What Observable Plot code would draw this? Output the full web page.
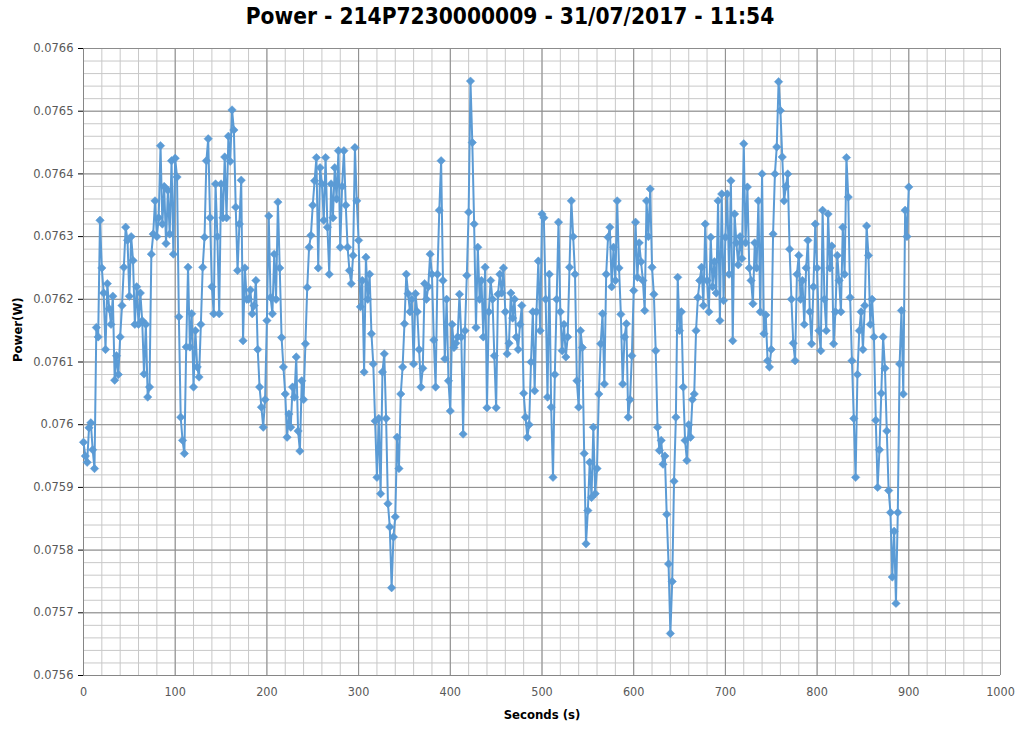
<!DOCTYPE html>
<html><head><meta charset="utf-8">
<script src="https://cdn.jsdelivr.net/npm/d3@7"></script>
<script src="https://cdn.jsdelivr.net/npm/@observablehq/plot@0.6"></script>
<style>
body{margin:0;background:#fff;}
#wrap{position:relative;width:1020px;height:733px;overflow:hidden;}
#title{position:absolute;left:0;top:3px;width:1020px;text-align:center;font-family:"Liberation Sans Narrow","DejaVu Sans Condensed",sans-serif;font-weight:bold;font-size:22.5px;color:#000;z-index:2;}
#chart svg{display:block;}
#chart [aria-label="y-axis tick label"]{font-family:"DejaVu Sans",Verdana,sans-serif;font-size:11.5px;fill:#595959;}
#chart [aria-label="x-axis tick label"]{font-family:"Liberation Sans Narrow","DejaVu Sans Condensed",sans-serif;font-size:12.5px;fill:#595959;}
</style></head>
<body><div id="wrap"><div id="title"></div><div id="chart"></div></div>
<script>
const chartTitle = "Power - 214P7230000009 - 31/07/2017 - 11:54";
const xLabel = "Seconds (s)";
const yLabel = "Power(W)";
const sampleStepSeconds = 2;
// power readings in microwatts, one every 2 s from 0 s to 900 s
const powerMicroW = [
75972,75950,75940,75995,76003,75960,75930,76155,76140,76326,
76250,76210,76120,76225,76185,76160,76205,76071,76110,76080,
76140,76190,76251,76315,76294,76205,76300,76262,76160,76220,
76160,76210,76166,76081,76160,76044,76060,76272,76304,76357,
76300,76330,76445,76320,76380,76289,76374,76304,76421,76272,
76425,76395,76172,76012,75975,75954,76124,76251,76124,76177,
76060,76150,76092,76076,76160,76251,76299,76421,76456,76330,
76220,76177,76384,76300,76177,76384,76330,76427,76330,76460,
76420,76502,76470,76347,76246,76320,76390,76134,76250,76200,
76200,76215,76177,76190,76230,76120,76060,76028,75996,76040,
76166,76333,76203,76177,76272,76200,76355,76250,76139,76092,
76049,75980,76017,75996,76060,76044,76108,75990,75958,76070,
76040,76129,76219,76283,76302,76350,76389,76426,76250,76410,
76384,76326,76426,76315,76240,76384,76330,76410,76360,76437,
76283,76380,76437,76350,76283,76246,76225,76270,76442,76357,
76294,76188,76230,76084,76267,76200,76240,76145,76097,76006,
75916,76010,75890,76084,76113,76010,75874,75837,75740,75821,
75853,75980,75930,76049,76092,76161,76240,76209,76180,76200,
76097,76209,76180,76120,76060,76090,76225,76200,76220,76272,
76240,76135,76060,76240,76342,76421,76230,76105,76200,76070,
76022,76160,76123,76130,76140,76208,76140,75985,76150,76238,
76339,76548,76450,76320,76155,76283,76200,76230,76140,76251,
76027,76180,76230,76200,76110,76027,76208,76240,76210,76250,
76180,76113,76130,76210,76170,76200,76140,76120,76160,76190,
76050,76012,75980,76000,76100,76180,76054,76180,76261,76150,
76336,76330,76200,76044,76240,76028,75916,76080,76200,76323,
76180,76118,76160,76108,76140,76251,76357,76300,76240,76070,
76028,76150,76123,75954,75810,75863,75940,75884,75996,75890,
75930,76049,76129,76177,76065,76240,76299,76315,76220,76283,
76230,76357,76250,76176,76065,76140,76161,76012,76040,76110,
76214,76323,76235,76290,76260,76230,76182,76357,76300,76376,
76251,76208,76118,75996,75959,75975,75937,75950,75857,75778,
75667,75750,75910,76012,76235,76150,76180,76060,75975,75943,
76000,75980,76040,76049,76150,76203,76230,76251,76190,76320,
76230,76180,76299,76220,76260,76210,76357,76166,76368,76198,
76299,76368,76240,76389,76134,76336,76290,76255,76300,76265,
76448,76290,76379,76250,76230,76193,76290,76250,76357,76180,
76400,76145,76175,76102,76092,76120,76304,76400,76443,76547,
76501,76427,76357,76380,76400,76280,76200,76130,76102,76240,
76270,76200,76230,76160,76250,76294,76180,76129,76220,76320,
76250,76150,76118,76342,76200,76150,76336,76250,76285,76129,
76180,76270,76230,76180,76315,76240,76426,76363,76203,76102,
76010,75916,76080,76150,76180,76120,76190,76317,76270,76160,
76200,76140,76007,75900,75960,76050,76140,76090,75990,75895,
75860,75757,75830,75715,75860,76097,76182,76049,76342,76300,
76379
];
const xTicks = [0,100,200,300,400,500,600,700,800,900,1000];
const yTicks = [0.0756,0.0757,0.0758,0.0759,0.076,0.0761,0.0762,0.0763,0.0764,0.0765,0.0766];

const data = powerMicroW.map((v, i) => ({t: i * sampleStepSeconds, p: v / 1e6}));
const xMinor = d3.range(0, 1001, 20);
const yMinor = d3.range(0, 51).map(i => 0.0756 + i * 0.00002);

document.getElementById("title").textContent = chartTitle;
const blue = "#5B9BD5";
const chart = Plot.plot({
  width: 1020, height: 733,
  marginLeft: 83, marginRight: 20, marginTop: 48, marginBottom: 58,
  style: {background: "#fff", overflow: "visible"},
  x: {domain: [0, 1000], ticks: xTicks, tickSize: 0, tickPadding: 12, label: null,
      tickFormat: d => String(d)},
  y: {domain: [0.0756, 0.0766], ticks: yTicks, tickSize: 5, tickPadding: 5, label: null,
      tickFormat: d => String(+d.toFixed(4))},
  marks: [
    Plot.ruleX(xMinor, {stroke: "#c8c8c8", strokeWidth: 1}),
    Plot.ruleY(yMinor, {stroke: "#c8c8c8", strokeWidth: 1}),
    Plot.ruleX(xTicks, {stroke: "#8c8c8c", strokeWidth: 1}),
    Plot.ruleY(yTicks, {stroke: "#8c8c8c", strokeWidth: 1}),
    Plot.ruleX([0], {stroke: "#868686"}),
    Plot.ruleY([0.0756], {stroke: "#868686"}),
    Plot.line(data, {x: "t", y: "p", stroke: blue, strokeWidth: 2}),
    Plot.dot(data, {x: "t", y: "p", symbol: "diamond2", r: 3.8, fill: blue, stroke: blue, strokeWidth: 0.5}),
    Plot.text([yLabel], {text: d => d, frameAnchor: "left", dx: -66, rotate: -90,
      fontFamily: "Liberation Sans Narrow, DejaVu Sans Condensed, sans-serif", fontWeight: "bold", fontSize: 13, fill: "#000"}),
    Plot.text([xLabel], {text: d => d, frameAnchor: "bottom", dy: 43,
      fontFamily: "Liberation Sans Narrow, DejaVu Sans Condensed, sans-serif", fontWeight: "bold", fontSize: 13, fill: "#000"})
  ]
});
document.getElementById("chart").appendChild(chart);
</script>
</body></html>
